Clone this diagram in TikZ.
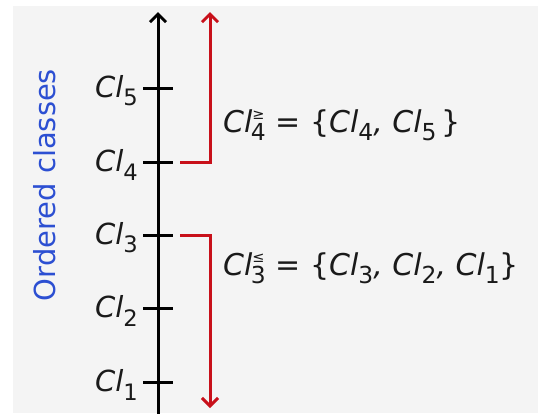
\documentclass[tikz,border=0pt]{standalone}
\usepackage{graphicx}
\usepackage{fontspec}
\setmainfont{DejaVu Sans}
\usepackage{tikz}
\usetikzlibrary{arrows,arrows.meta,positioning,calc}

\definecolor{bggray}{HTML}{F4F4F4}
\definecolor{setred}{HTML}{C8101A}
\definecolor{ordblue}{HTML}{2C4FD2}
\definecolor{inkgray}{HTML}{1A1A1A}

% class symbol with subscript, and with a stacked relation over the index
\newcommand{\clsub}[1]{\textit{Cl}\raisebox{-0.28em}{\scalebox{0.78}{#1}}}
\newcommand{\clrel}[2]{\textit{Cl}\kern-0.05em\raisebox{-0.28em}{\scalebox{0.78}{\ooalign{\hfil\raisebox{0.9em}{\scalebox{0.62}{#1}}\hfil\cr #2\cr}}}}

\begin{document}
\begin{tikzpicture}[x=1pt,y=-1pt,
    barb/.tip={Straight Barb[length=8pt,width=16pt,line width=3pt]},
    axis/.style={line width=3pt, black},
    bracket/.style={line width=3pt, setred},
    clslabel/.style={font=\fontsize{29}{32}\selectfont, text=inkgray, inner sep=0pt},
    setlabel/.style={font=\fontsize{30}{34}\selectfont, text=inkgray, inner sep=0pt}]
    % Background
    \fill[white] (0,0) rectangle (538,413);
    \fill[bggray] (13,6) rectangle (538,413);
    \useasboundingbox (0,0) rectangle (538,413);

    % Axis of ordered classes
    \coordinate (axbot) at (158,415);
    \coordinate (axtop) at (158,12);
    \draw[axis, -barb] (axbot) -- (axtop);
    \node[rotate=90, text=ordblue, font=\fontsize{29}{32}\selectfont, inner sep=0pt] (ordered) at (45,185) {Ordered classes};

    % Ticks and class names
    \foreach \i/\y in {1/382, 2/308, 3/235, 4/162, 5/88} {
        \coordinate (t\i) at (158,\y);
        \draw[axis] ($(t\i)+(-15,0)$) -- ($(t\i)+(15,0)$);
        \node[clslabel, anchor=east] (cl\i) at ($(t\i)+(-20,3)$) {\clsub{\i}};
    }

    % Upward union
    \coordinate (up0) at (180,162);
    \coordinate (up1) at (210,162);
    \coordinate (up2) at (210,12);
    \draw[bracket, -barb] (up0) -- (up1) -- (up2);
    \node[setlabel, anchor=base west] (upset) at (223,132) {\clrel{≥}{4} = \{\clsub{4}\textit{,} \clsub{5}\,\}};

    % Downward union
    \coordinate (dn0) at (180,235);
    \coordinate (dn1) at (210,235);
    \coordinate (dn2) at (210,408);
    \draw[bracket, -barb] (dn0) -- (dn1) -- (dn2);
    \node[setlabel, anchor=base west] (dnset) at (223,275) {\clrel{≤}{3} = \{\clsub{3}\textit{,} \clsub{2}\textit{,} \clsub{1}\}};
\end{tikzpicture}
\end{document}
